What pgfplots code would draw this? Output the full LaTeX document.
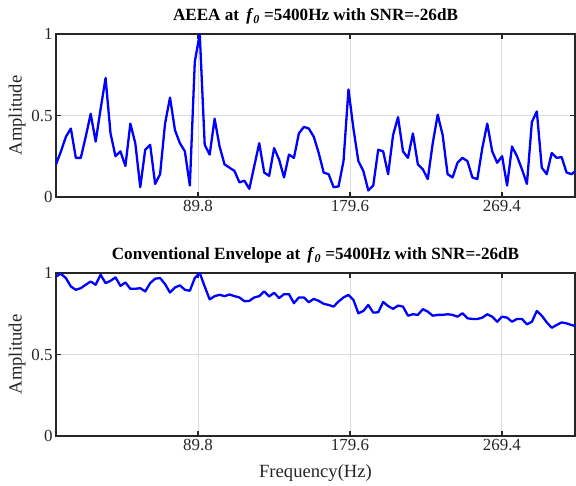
\documentclass[border=0pt]{standalone}
\usepackage{fontspec}
\setmainfont{Liberation Serif}
\usepackage{pgfplots}
\pgfplotsset{compat=1.18}
\usepackage{pgfplotstable}
\definecolor{matblue}{RGB}{0,0,255}
\definecolor{axgray}{RGB}{38,38,38}
\definecolor{gridgray}{RGB}{220,220,220}

% f = bin * 2.9297 Hz, aeea = AEEA spectrum, env = conventional envelope spectrum
\pgfplotstableread{
f      aeea   env
5.86   0.20   0.979
8.79   0.28   0.995
11.72  0.37   0.969
14.65  0.42   0.917
17.58  0.24   0.897
20.51  0.24   0.907
23.44  0.37   0.928
26.37  0.51   0.948
29.30  0.34   0.928
32.23  0.54   0.989
35.16  0.73   0.938
38.09  0.39   0.952
41.02  0.25   0.973
43.95  0.28   0.921
46.88  0.19   0.942
49.80  0.45   0.903
52.73  0.33   0.903
55.66  0.06   0.907
58.59  0.29   0.887
61.52  0.32   0.938
64.45  0.08   0.965
67.38  0.14   0.969
70.31  0.45   0.932
73.24  0.61   0.880
76.17  0.41   0.911
79.10  0.33   0.924
82.03  0.28   0.897
84.96  0.07   0.891
87.89  0.83   0.969
90.82  1.00   1.000
93.75  0.32   0.917
96.68  0.26   0.838
99.61  0.48   0.858
102.54 0.31   0.866
105.47 0.20   0.858
108.40 0.18   0.868
111.33 0.16   0.858
114.26 0.09   0.850
117.19 0.10   0.827
120.12 0.05   0.829
123.05 0.19   0.850
125.98 0.33   0.858
128.91 0.15   0.887
131.84 0.13   0.856
134.77 0.30   0.879
137.70 0.23   0.846
140.63 0.12   0.870
143.55 0.26   0.870
146.48 0.24   0.815
149.41 0.39   0.850
152.34 0.43   0.850
155.27 0.42   0.821
158.20 0.37   0.841
161.13 0.27   0.829
164.06 0.15   0.811
166.99 0.14   0.804
169.92 0.06   0.794
172.85 0.065  0.825
175.78 0.22   0.850
178.71 0.66   0.866
181.64 0.42   0.835
184.57 0.22   0.753
187.50 0.16   0.767
190.43 0.04   0.804
193.36 0.07   0.757
196.29 0.29   0.759
199.22 0.28   0.822
202.15 0.14   0.797
205.08 0.38   0.780
208.01 0.49   0.800
210.94 0.28   0.794
213.87 0.24   0.738
216.80 0.39   0.747
219.73 0.20   0.743
222.66 0.17   0.778
225.59 0.11   0.763
228.52 0.33   0.738
231.45 0.505  0.743
234.38 0.38   0.743
237.30 0.14   0.747
240.23 0.12   0.743
243.16 0.21   0.732
246.09 0.24   0.753
249.02 0.22   0.722
251.95 0.12   0.718
254.88 0.11   0.718
257.81 0.30   0.726
260.74 0.45   0.747
263.67 0.28   0.732
266.60 0.21   0.701
269.53 0.25   0.732
272.46 0.07   0.726
275.39 0.31   0.701
278.32 0.25   0.718
281.25 0.17   0.718
284.18 0.08   0.685
287.11 0.46   0.701
290.04 0.525  0.767
292.97 0.18   0.738
295.90 0.14   0.697
298.83 0.27   0.664
301.76 0.24   0.681
304.69 0.245  0.697
307.62 0.15   0.691
310.55 0.14   0.681
313.48 0.165  0.673
}\spectra

\pgfplotsset{
  panel/.style={
    scale only axis,
    width=519bp, height=163bp,
    xmin=5.86, xmax=312.6,
    ymin=0, ymax=1,
    xtick={89.8,179.6,269.4},
    xticklabels={89.8,179.6,269.4},
    ytick={0,0.5,1},
    yticklabels={0,0.5,1},
    tick align=inside,
    major tick length=5bp,
    axis line style={axgray, line width=1.3bp},
    every tick/.style={axgray, line width=1.3bp},
    grid=major,
    major grid style={gridgray, line width=0.9bp},
    ticklabel style={font=\fontsize{17}{20}\selectfont, text=axgray},
    ylabel={Amplitude},
    every axis y label/.style={at={(axis description cs:-0.0751,0.5)},
      rotate=90, anchor=center, font=\fontsize{18.7}{22}\selectfont, text=axgray},
    every axis x label/.style={at={(axis description cs:0.5,-0.227)},
      anchor=center, font=\fontsize{18.7}{22}\selectfont, text=axgray},
    every axis title/.style={at={(axis description cs:0.5,1)},
      anchor=base, yshift=13bp, font=\bfseries\fontsize{17.2}{20}\selectfont},
  }
}

\begin{document}
\begin{tikzpicture}
\useasboundingbox (0,0) rectangle (576bp,486bp);

\begin{axis}[panel,
  at={(56bp,289bp)}, anchor=south west,
  title={AEEA at~\,\textit{f}\textsubscript{\textit{0}} =5400Hz with SNR=-26dB},
]
\addplot[matblue, line width=2.3bp, line join=round] table[x=f, y=aeea] {\spectra};
\end{axis}

\begin{axis}[panel,
  at={(56bp,50bp)}, anchor=south west,
  title={Conventional Envelope at~\,\textit{f}\textsubscript{\textit{0}} =5400Hz with SNR=-26dB},
  xlabel={Frequency(Hz)},
]
\addplot[matblue, line width=2.3bp, line join=round] table[x=f, y=env] {\spectra};
\end{axis}
\end{tikzpicture}
\end{document}
